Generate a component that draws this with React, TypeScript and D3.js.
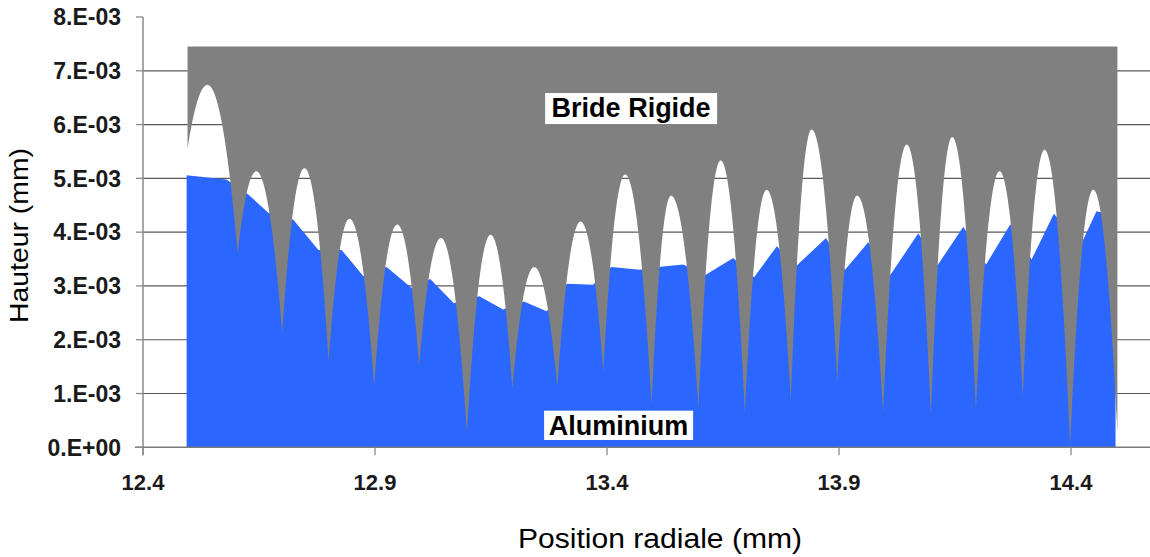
import React from "react";
import * as d3 from "d3";

// ---- data (mm) ----
const xTicks = [12.4, 12.9, 13.4, 13.9, 14.4];
const xTickLabels = ["12.4", "12.9", "13.4", "13.9", "14.4"];
const yTicks = [0, 1e-3, 2e-3, 3e-3, 4e-3, 5e-3, 6e-3, 7e-3, 8e-3];
const yTickLabels = ["0.E+00", "1.E-03", "2.E-03", "3.E-03", "4.E-03", "5.E-03", "6.E-03", "7.E-03", "8.E-03"];

// Bride rigide: top level, groove bottoms (cusps, incl. both ends) and arch tops
const brideTop = 7.45e-3;
const cuspX = [12.496, 12.604, 12.7, 12.8, 12.898, 12.995, 13.098, 13.196, 13.293, 13.392, 13.496, 13.597, 13.697, 13.796, 13.896, 13.995, 14.098, 14.195, 14.296, 14.398, 14.5];
const cuspH = [5.56e-3, 3.61e-3, 2.13e-3, 1.6e-3, 1.15e-3, 1.51e-3, 0.27e-3, 1.1e-3, 1.12e-3, 1.41e-3, 0.79e-3, 0.73e-3, 0.64e-3, 0.87e-3, 1.23e-3, 0.64e-3, 0.59e-3, 0.7e-3, 0.95e-3, 0.02e-3, 0.27e-3];
const peakX = [12.539, 12.644, 12.748, 12.845, 12.948, 13.042, 13.149, 13.243, 13.343, 13.439, 13.538, 13.645, 13.744, 13.841, 13.939, 14.046, 14.144, 14.246, 14.343, 14.448];
const peakH = [6.74e-3, 5.13e-3, 5.19e-3, 4.25e-3, 4.14e-3, 3.89e-3, 3.95e-3, 3.35e-3, 4.2e-3, 5.07e-3, 4.68e-3, 5.33e-3, 4.79e-3, 5.91e-3, 4.68e-3, 5.63e-3, 5.77e-3, 5.13e-3, 5.53e-3, 4.79e-3];

// Aluminium profile
const aluX = [12.494, 12.58, 12.627, 12.67, 12.724, 12.778, 12.828, 12.875, 12.925, 12.979, 13.019, 13.07, 13.125, 13.176, 13.221, 13.27, 13.314, 13.37, 13.409, 13.471, 13.511, 13.564, 13.613, 13.672, 13.717, 13.766, 13.809, 13.872, 13.913, 13.963, 14.011, 14.071, 14.112, 14.168, 14.217, 14.269, 14.315, 14.363, 14.423, 14.455, 14.496];
const aluH = [5.06e-3, 4.98e-3, 4.7e-3, 4.36e-3, 4.23e-3, 3.67e-3, 3.67e-3, 3.18e-3, 3.35e-3, 2.96e-3, 3.13e-3, 2.68e-3, 2.81e-3, 2.56e-3, 2.71e-3, 2.53e-3, 3.04e-3, 3.02e-3, 3.35e-3, 3.3e-3, 3.35e-3, 3.4e-3, 3.21e-3, 3.52e-3, 3.16e-3, 3.74e-3, 3.38e-3, 3.89e-3, 3.3e-3, 3.81e-3, 3.21e-3, 3.98e-3, 3.38e-3, 4.1e-3, 3.4e-3, 4.14e-3, 3.49e-3, 4.34e-3, 3.8e-3, 4.39e-3, 4.3e-3];

const FONT = "'Liberation Sans', Arial, Helvetica, sans-serif";

export default function App() {
  const W = 1150, H = 557;
  const x = d3.scaleLinear().domain([12.4, 14.9]).range([143, 1303]);
  const y = d3.scaleLinear().domain([0, 8e-3]).range([447.3, 17]);

  // grey (bride) path: flat top, arches with sharp grooves
  const p = d3.path();
  p.moveTo(x(cuspX[0]), y(brideTop));
  p.lineTo(x(cuspX[0]), y(cuspH[0]));
  for (let i = 0; i < peakX.length; i++) {
    const x0 = x(cuspX[i]);
    const xp = x(peakX[i]);
    const yp = y(peakH[i]);
    const x1 = x(cuspX[i + 1]);
    const y1 = y(cuspH[i + 1]);
    p.quadraticCurveTo((x0 + xp) / 2, yp, xp, yp);
    p.quadraticCurveTo((xp + x1) / 2, yp, x1, y1);
  }
  p.lineTo(x(cuspX[cuspX.length - 1]), y(brideTop));
  p.closePath();

  const aluData = aluX.map((v, i) => [v, aluH[i]] as [number, number]);
  const area = d3
    .area<[number, number]>()
    .x((d) => x(d[0]))
    .y0(y(0))
    .y1((d) => y(d[1]));

  const x0 = 143;
  const yBase = y(0);

  return (
    <svg
      width={W}
      height={H}
      style={{ position: "absolute", left: 0, top: 0, background: "#fff" }}
      fontFamily={FONT}
    >
      <rect x={0} y={0} width={W} height={H} fill="#fff" />
      {/* gridlines */}
      {yTicks.slice(1, 8).map((t) => (
        <line key={"g" + t} x1={x0} x2={W} y1={y(t)} y2={y(t)} stroke="#5a5a5a" strokeWidth={1.2} />
      ))}
      {/* areas */}
      <path d={area(aluData) || ""} fill="#2b66ff" />
      <path d={p.toString()} fill="#808080" />
      {/* axes */}
      <line x1={x0} x2={x0} y1={y(8e-3)} y2={yBase + 8} stroke="#8a8a8a" strokeWidth={1.5} />
      <line x1={x0 - 8} x2={W} y1={yBase} y2={yBase} stroke="#7a7a7a" strokeWidth={1.5} />
      {yTicks.map((t, i) => (
        <g key={"yt" + t}>
          <line x1={x0 - 7} x2={x0} y1={y(t)} y2={y(t)} stroke="#8a8a8a" strokeWidth={1.3} />
          <text
            x={121}
            y={y(t)}
            dy="0.36em"
            textAnchor="end"
            fontSize={23}
            fontWeight="bold"
            fill="#1a1a1a"
          >
            {yTickLabels[i]}
          </text>
        </g>
      ))}
      {xTicks.map((t, i) => (
        <g key={"xt" + t}>
          <line x1={x(t)} x2={x(t)} y1={yBase} y2={yBase + 8} stroke="#8a8a8a" strokeWidth={1.3} />
          <text x={x(t)} y={490} textAnchor="middle" fontSize={22} fontWeight="bold" fill="#1a1a1a">
            {xTickLabels[i]}
          </text>
        </g>
      ))}
      {/* axis titles */}
      <text
        x={660}
        y={548}
        textAnchor="middle"
        fontSize={27}
        fill="#000"
        textLength={284}
        lengthAdjust="spacingAndGlyphs"
      >
        Position radiale (mm)
      </text>
      <text
        transform="translate(28,235.5) rotate(-90)"
        textAnchor="middle"
        fontSize={25}
        fill="#000"
        textLength={175}
        lengthAdjust="spacingAndGlyphs"
      >
        Hauteur (mm)
      </text>
      {/* series labels */}
      <g>
        <rect x={x(13.452) - 86} y={y(6.14e-3) - 24} width={172} height={31} fill="#fff" />
        <text x={x(13.452)} y={y(6.14e-3)} textAnchor="middle" fontSize={27} fontWeight="bold" fill="#000">
          Bride Rigide
        </text>
      </g>
      <g>
        <rect x={x(13.425) - 74.5} y={y(0.229e-3) - 24.3} width={149} height={29.3} fill="#fff" />
        <text x={x(13.425)} y={y(0.229e-3)} textAnchor="middle" fontSize={27} fontWeight="bold" fill="#000">
          Aluminium
        </text>
      </g>
    </svg>
  );
}
